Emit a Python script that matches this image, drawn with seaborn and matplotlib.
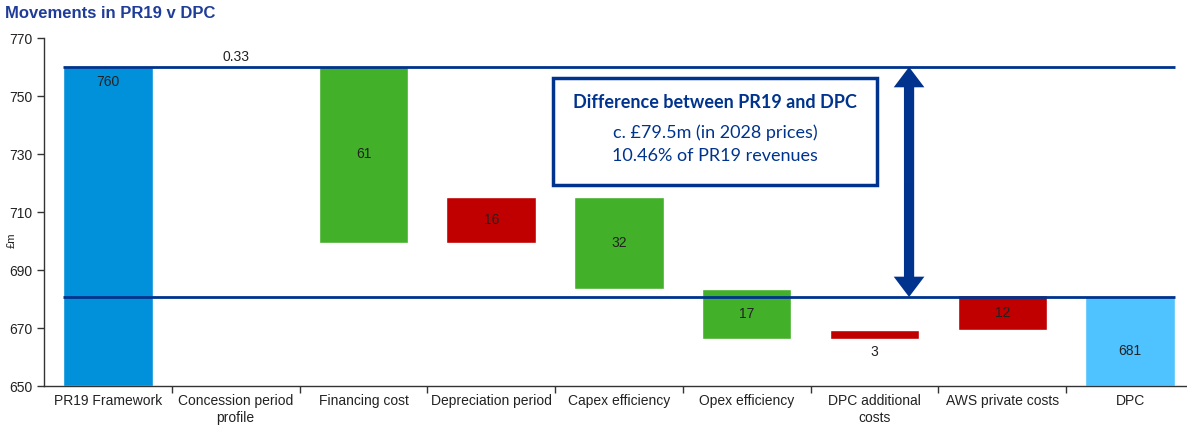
import matplotlib
matplotlib.use("Agg")
import matplotlib.pyplot as plt
import seaborn as sns
import numpy as np
from matplotlib.patches import Rectangle, FancyArrow

# data
categories = ["PR19 Framework", "Concession period\nprofile", "Financing cost",
              "Depreciation period", "Capex efficiency", "Opex efficiency",
              "DPC additional\ncosts", "AWS private costs", "DPC"]
start_value = 760
steps = [0.33, -61, 16, -32, -17, 3, 12]
end_value = 681
step_labels = ["0.33", "61", "16", "32", "17", "3", "12"]
pr19_level = 760
dpc_level = 680.7
box_lines = ["Difference between PR19 and DPC", "c. £79.5m (in 2028 prices)", "10.46% of PR19 revenues"]

NAVY = "#00338D"
BLUE = "#0091DA"
LIGHT = "#4FC3FF"
GREEN = "#43B02A"
RED = "#C00000"

sns.set_theme(style="white")
plt.rcParams["font.family"] = ["Liberation Sans", "DejaVu Sans"]

fig = plt.figure(figsize=(11.87, 4.28), dpi=100)
ax = fig.add_axes([44 / 1187, 1 - 386 / 428, 1150 / 1187, 348 / 428])

x = np.arange(len(categories))
width = 0.7

# waterfall bars
ax.bar(0, start_value - 650, bottom=650, width=width, color=BLUE)
level = start_value
for i, s in enumerate(steps, start=1):
    lo, hi = (level, level + s) if s >= 0 else (level + s, level)
    col = RED if s > 0 else GREEN
    if i == 1:
        col = "white"
    ax.bar(i, hi - lo, bottom=lo, width=width, color=col)
    if i == 1:
        ax.text(i, hi + 3.2, step_labels[i - 1], ha="center", va="center", fontsize=10, color="#222222")
    elif i == 6:
        ax.text(i, lo - 4.5, step_labels[i - 1], ha="center", va="center", fontsize=10, color="#222222")
    else:
        ax.text(i, (lo + hi) / 2, step_labels[i - 1], ha="center", va="center", fontsize=10, color="#222222")
    level += s
ax.bar(8, end_value - 650, bottom=650, width=width, color=LIGHT)
ax.text(0, 755, f"{start_value}", ha="center", va="center", fontsize=10, color="#222222")
ax.text(8, 662, f"{end_value}", ha="center", va="center", fontsize=10, color="#222222")

# reference lines
ax.hlines([pr19_level, dpc_level], -width / 2, 8 + width / 2, color=NAVY, lw=2, zorder=4)

# double arrow, built from two single-headed arrows meeting in the middle
arrow_x = 6.27
mid = (pr19_level + dpc_level) / 2
for tip in (pr19_level, dpc_level):
    ax.add_patch(FancyArrow(arrow_x, mid, 0, tip - mid, width=0.08, head_width=0.24,
                            head_length=7, length_includes_head=True,
                            color=NAVY, lw=0, zorder=5))

# text box
ax.add_patch(Rectangle((3.48, 719.3), 2.54, 36.9, facecolor="white", edgecolor=NAVY, lw=2.5, zorder=5))
ax.text(4.75, 747.6, box_lines[0], ha="center", va="center", fontsize=13, fontweight="bold",
        color=NAVY, family="Lato", zorder=6)
ax.text(4.75, 737.4, box_lines[1], ha="center", va="center", fontsize=13, color=NAVY, family="Lato", zorder=6)
ax.text(4.75, 729.2, box_lines[2], ha="center", va="center", fontsize=13, color=NAVY, family="Lato", zorder=6)

# axes styling
ax.set_xlim(-0.5, 8.5)
ax.set_ylim(650, 770)
ax.set_yticks(np.arange(650, 771, 20))
ax.set_xticks(x)
ax.set_xticklabels(categories, fontsize=10, color="#222222")
ax.set_xticks(np.arange(0.5, 8.5, 1), minor=True)
ax.tick_params(axis="x", which="major", length=0, pad=6)
ax.tick_params(axis="x", which="minor", length=5, width=1, color="#333333", direction="out", bottom=True)
ax.tick_params(axis="y", length=5, width=1, color="#333333", direction="out", left=True, labelsize=10,
               labelcolor="#222222")
sns.despine(ax=ax)
for sp in ["left", "bottom"]:
    ax.spines[sp].set_color("#333333")
    ax.spines[sp].set_linewidth(1)

fig.text(12 / 1187, 1 - 240 / 428, "£m", fontsize=8, color="#222222", rotation=90,
         ha="center", va="center")
fig.text(5 / 1187, 1 - 14 / 428, "Movements in PR19 v DPC", fontsize=12, fontweight="bold",
         color="#1F3C99", ha="left", va="center")

fig.savefig("out.png", dpi=100)
